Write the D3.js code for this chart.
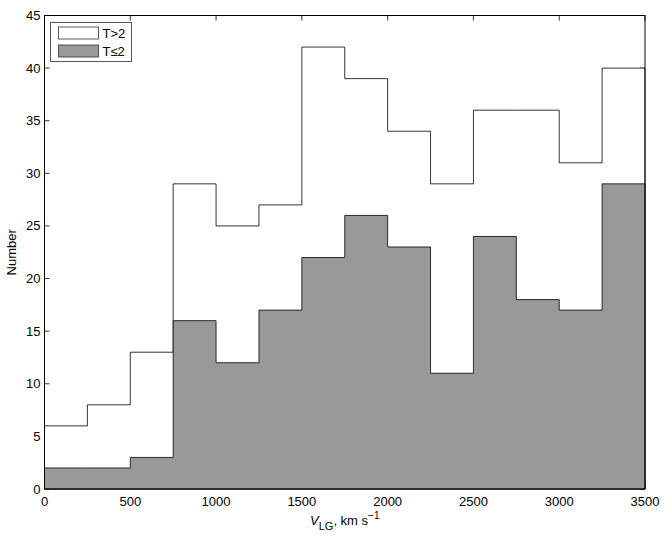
<!DOCTYPE html>
<html>
<head>
<meta charset="utf-8">
<script src="https://cdn.jsdelivr.net/npm/d3@7"></script>
<style>
body { margin: 0; background: #fff; }
text { font-family: "Liberation Sans", Arial, sans-serif; }
</style>
</head>
<body>
<div id="chart"></div>
<script>
// bin edges (km/s) and counts per bin
var binStart = [0, 250, 500, 750, 1000, 1250, 1500, 1750, 2000, 2250, 2500, 2750, 3000, 3250];
var binWidth = 250;
var countHigh = [6, 8, 13, 29, 25, 27, 42, 39, 34, 29, 36, 36, 31, 40];   // T>2
var countLow  = [2, 2, 3, 16, 12, 17, 22, 26, 23, 11, 24, 18, 17, 29];    // T<=2
var xTicks = [0, 500, 1000, 1500, 2000, 2500, 3000, 3500];
var yTicks = [0, 5, 10, 15, 20, 25, 30, 35, 40, 45];
var legendLabels = ["T>2", "T\u22642"];

var width = 664, height = 538;
var margin = {left: 44.5, right: 19, top: 15.5, bottom: 49};

var x = d3.scaleLinear().domain([0, 3500]).range([margin.left, width - margin.right]);
var y = d3.scaleLinear().domain([0, 45]).range([height - margin.bottom, margin.top]);

var svg = d3.select("#chart").append("svg")
    .attr("width", width)
    .attr("height", height);

// step outline as a closed area down to zero
function stepPath(counts) {
    var p = "M" + x(binStart[0]) + " " + y(0);
    for (var i = 0; i < counts.length; ++i) {
        p += " L" + x(binStart[i]) + " " + y(counts[i]);
        p += " L" + x(binStart[i] + binWidth) + " " + y(counts[i]);
    }
    p += " L" + x(binStart[counts.length - 1] + binWidth) + " " + y(0) + " Z";
    return p;
}

// tick marks inside the box (drawn first, histograms cover them)
var tickLen = 5;
var ticks = svg.append("g").attr("stroke", "#000").attr("stroke-width", 0.8);
xTicks.forEach(function(t) {
    ticks.append("line").attr("x1", x(t)).attr("x2", x(t))
        .attr("y1", y(0)).attr("y2", y(0) - tickLen);
    ticks.append("line").attr("x1", x(t)).attr("x2", x(t))
        .attr("y1", y(45)).attr("y2", y(45) + tickLen);
});
yTicks.forEach(function(t) {
    ticks.append("line").attr("x1", x(0)).attr("x2", x(0) + tickLen)
        .attr("y1", y(t)).attr("y2", y(t));
    ticks.append("line").attr("x1", x(3500)).attr("x2", x(3500) - tickLen)
        .attr("y1", y(t)).attr("y2", y(t));
});

svg.append("path")
    .attr("d", stepPath(countHigh))
    .attr("fill", "#fff")
    .attr("stroke", "#000")
    .attr("stroke-width", 0.8);

svg.append("path")
    .attr("d", stepPath(countLow))
    .attr("fill", "#999999")
    .attr("stroke", "#000")
    .attr("stroke-width", 0.8);

// axes box
svg.append("rect")
    .attr("x", x(0)).attr("y", y(45))
    .attr("width", x(3500) - x(0)).attr("height", y(0) - y(45))
    .attr("fill", "none")
    .attr("stroke", "#000")
    .attr("stroke-width", 1);

// tick labels
svg.append("g").selectAll("text")
    .data(xTicks).enter().append("text")
    .attr("x", function(d) { return x(d); })
    .attr("y", y(0) + 17)
    .attr("text-anchor", "middle")
    .attr("font-size", 13)
    .text(function(d) { return d; });

svg.append("g").selectAll("text")
    .data(yTicks).enter().append("text")
    .attr("x", x(0) - 4)
    .attr("y", function(d) { return y(d) + 4.5; })
    .attr("text-anchor", "end")
    .attr("font-size", 13)
    .text(function(d) { return d; });

// axis titles
svg.append("text")
    .attr("transform", "translate(16," + ((y(0) + y(45)) / 2) + ") rotate(-90)")
    .attr("text-anchor", "middle")
    .attr("font-size", 13)
    .text("Number");

var xt = svg.append("text")
    .attr("x", (x(0) + x(3500)) / 2)
    .attr("y", 525)
    .attr("text-anchor", "middle")
    .attr("font-size", 13);
xt.append("tspan").attr("font-style", "italic").text("V");
xt.append("tspan").attr("dy", 5).attr("font-size", 11).text("LG");
xt.append("tspan").attr("dy", -5).text(", km s");
xt.append("tspan").attr("dy", -6).attr("font-size", 10).text("\u22121");

// legend
var lg = svg.append("g").attr("transform", "translate(50.5,22.5)");
lg.append("rect").attr("width", 81).attr("height", 39)
    .attr("fill", "#fff").attr("stroke", "#555").attr("stroke-width", 1);
var fills = ["#fff", "#999999"];
legendLabels.forEach(function(l, i) {
    lg.append("rect")
        .attr("x", 8).attr("y", 4.5 + i * 18)
        .attr("width", 40).attr("height", 12)
        .attr("fill", fills[i]).attr("stroke", "#333").attr("stroke-width", 0.8);
    lg.append("text")
        .attr("x", 52).attr("y", 15.5 + i * 18)
        .attr("font-size", 13)
        .text(l);
});
</script>
</body>
</html>
